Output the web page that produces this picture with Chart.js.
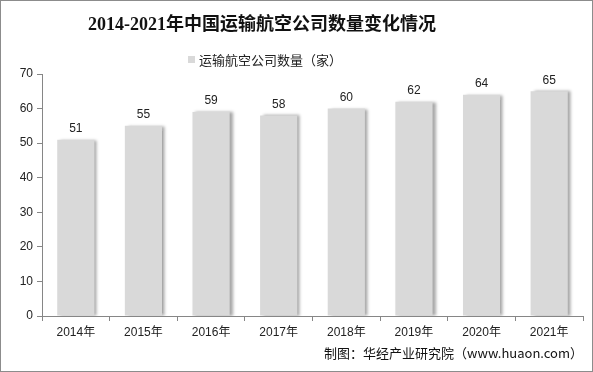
<!DOCTYPE html>
<html>
<head>
<meta charset="utf-8">
<script src="https://cdn.jsdelivr.net/npm/chart.js@4/dist/chart.umd.min.js"></script>
<style>
  html, body { margin: 0; padding: 0; background: #fff; }
  #wrap { position: relative; width: 591px; height: 370px; border: 1px solid #8c8c8c; }
</style>
</head>
<body>
<div id="wrap"><canvas id="airlineChart" width="591" height="370"></canvas></div>
<script>
const years = ['2014年', '2015年', '2016年', '2017年', '2018年', '2019年', '2020年', '2021年'];
const airlineCounts = [51, 55, 59, 58, 60, 62, 64, 65];
const seriesName = '运输航空公司数量（家）';
const chartTitle = '2014-2021年中国运输航空公司数量变化情况';
const sourceNote = '制图：华经产业研究院（www.huaon.com）';

// soft shadow on the right side of each bar
const barShadow = {
  id: 'barShadow',
  beforeDatasetsDraw(chart) {
    const ctx = chart.ctx;
    ctx.save();
    ctx.shadowColor = 'rgba(0,0,0,0.35)';
    ctx.shadowOffsetX = 3;
    ctx.shadowOffsetY = 0;
    ctx.shadowBlur = 3;
  },
  afterDatasetsDraw(chart) {
    chart.ctx.restore();
  }
};

// title + legend sit left of centre in the original, so draw them by hand
const header = {
  id: 'header',
  afterDraw(chart) {
    const ctx = chart.ctx;
    const cx = 261;
    ctx.save();
    ctx.textBaseline = 'middle';
    ctx.textAlign = 'center';
    ctx.fillStyle = '#111';
    ctx.font = 'bold 18px "Liberation Serif", "Noto Sans CJK SC", serif';
    ctx.fillText(chartTitle, cx, 24);

    ctx.font = '13px "Noto Sans CJK SC", sans-serif';
    const w = ctx.measureText(seriesName).width;
    const x0 = cx - (w + 11) / 2 + 3;
    ctx.fillStyle = chart.data.datasets[0].backgroundColor;
    ctx.fillRect(x0, 55, 7, 7);
    ctx.fillStyle = '#222';
    ctx.textAlign = 'left';
    ctx.fillText(seriesName, x0 + 11, 59);
    ctx.restore();
  }
};

// value labels above bars
const valueLabels = {
  id: 'valueLabels',
  afterDraw(chart) {
    const ctx = chart.ctx;
    const meta = chart.getDatasetMeta(0);
    ctx.save();
    ctx.font = '12px Arial, "Liberation Sans", sans-serif';
    ctx.fillStyle = '#222';
    ctx.textAlign = 'center';
    ctx.textBaseline = 'bottom';
    meta.data.forEach((bar, i) => {
      ctx.fillText(chart.data.datasets[0].data[i], bar.x, bar.y - 5);
    });
    ctx.restore();
  }
};

new Chart(document.getElementById('airlineChart'), {
  type: 'bar',
  data: {
    labels: years,
    datasets: [{
      label: seriesName,
      data: airlineCounts,
      backgroundColor: '#d9d9d9',
      borderWidth: 0,
      barPercentage: 0.55,
      categoryPercentage: 1
    }]
  },
  plugins: [barShadow, header, valueLabels],
  options: {
    responsive: false,
    animation: false,
    layout: { padding: { left: 0, right: 9, top: 73, bottom: 10 } },
    plugins: {
      title: { display: false },
      legend: { display: false },
      subtitle: {
        display: true,
        position: 'bottom',
        align: 'end',
        text: sourceNote,
        color: '#111',
        font: { family: '"Noto Sans CJK SC", sans-serif', size: 13 },
        padding: { top: 2, bottom: 0 }
      },
      tooltip: { enabled: false }
    },
    scales: {
      x: {
        grid: { display: true, offset: true, drawOnChartArea: false, drawTicks: true, tickLength: 5, color: '#868686' },
        border: { display: true, color: '#868686' },
        ticks: {
          color: '#222',
          padding: 4,
          maxRotation: 0,
          font: { family: 'Arial, "Liberation Sans", "Noto Sans CJK SC", sans-serif', size: 12 }
        }
      },
      y: {
        min: 0,
        max: 70,
        afterFit(scale) { scale.width = 41; },
        grid: { display: true, drawOnChartArea: false, drawTicks: true, tickLength: 5, color: '#868686' },
        border: { display: true, color: '#868686' },
        ticks: {
          stepSize: 10,
          color: '#222',
          padding: 4,
          font: { family: 'Arial, "Liberation Sans", sans-serif', size: 12 }
        }
      }
    }
  }
});
</script>
</body>
</html>
